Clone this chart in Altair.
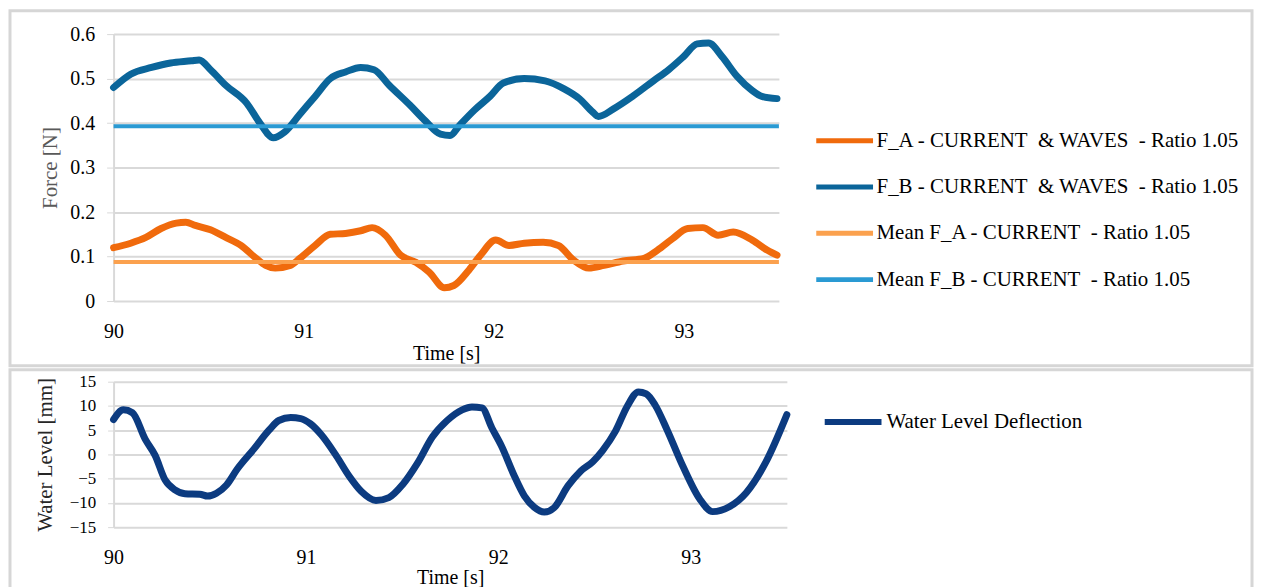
import altair as alt
import pandas as pd

# ---------------- data ----------------
fb_t = [90.00, 90.09, 90.20, 90.30, 90.41, 90.45, 90.51, 90.59, 90.70, 90.77, 90.84, 90.90, 90.98,
        91.06, 91.14, 91.22, 91.30, 91.37, 91.45, 91.56, 91.64, 91.72, 91.77, 91.82, 91.90, 91.98,
        92.05, 92.16, 92.27, 92.37, 92.45, 92.52, 92.55, 92.63, 92.73, 92.84, 92.92, 93.00, 93.07,
        93.13, 93.20, 93.28, 93.36, 93.41, 93.49]
fb_v = [0.480, 0.510, 0.525, 0.535, 0.540, 0.542, 0.520, 0.485, 0.445, 0.400, 0.367, 0.380, 0.420,
        0.460, 0.500, 0.515, 0.525, 0.520, 0.485, 0.440, 0.405, 0.375, 0.372, 0.395, 0.430, 0.460,
        0.490, 0.500, 0.495, 0.477, 0.455, 0.425, 0.415, 0.432, 0.460, 0.495, 0.520, 0.550, 0.578,
        0.580, 0.550, 0.505, 0.473, 0.460, 0.455]

fa_t = [90.00, 90.09, 90.17, 90.25, 90.33, 90.38, 90.43, 90.51, 90.59, 90.67, 90.75, 90.80, 90.85,
        90.93, 90.98, 91.06, 91.14, 91.22, 91.30, 91.36, 91.43, 91.51, 91.59, 91.66, 91.74, 91.79,
        91.87, 91.93, 92.01, 92.08, 92.16, 92.26, 92.34, 92.42, 92.50, 92.58, 92.68, 92.79, 92.86,
        92.94, 93.02, 93.10, 93.18, 93.26, 93.36, 93.44, 93.49]
fa_v = [0.120, 0.130, 0.143, 0.163, 0.175, 0.177, 0.170, 0.160, 0.143, 0.125, 0.096, 0.080, 0.074,
        0.080, 0.096, 0.125, 0.150, 0.152, 0.158, 0.165, 0.148, 0.103, 0.087, 0.065, 0.030, 0.035,
        0.070, 0.103, 0.137, 0.125, 0.130, 0.132, 0.125, 0.092, 0.074, 0.080, 0.090, 0.096, 0.114,
        0.140, 0.163, 0.165, 0.148, 0.155, 0.137, 0.114, 0.103]

mean_fa = 0.088
mean_fb = 0.393
t_range = [90.0, 93.5]

wl_t = [90.000, 90.051, 90.098, 90.165, 90.216, 90.268, 90.319, 90.371, 90.448, 90.489, 90.535,
        90.587, 90.643, 90.731, 90.808, 90.859, 90.921, 90.973, 91.024, 91.081, 91.158, 91.225,
        91.287, 91.364, 91.431, 91.503, 91.580, 91.657, 91.734, 91.812, 91.863, 91.915, 91.966,
        92.017, 92.084, 92.136, 92.187, 92.239, 92.290, 92.362, 92.429, 92.491, 92.542, 92.609,
        92.671, 92.728, 92.769, 92.815, 92.877, 92.959, 93.047, 93.114, 93.201, 93.289, 93.392,
        93.500]
wl_v = [7.2, 9.2, 8.6, 3.1, -0.2, -5.3, -7.3, -8.1, -8.2, -8.6, -8.0,
        -6.3, -3.0, 1.2, 5.0, 7.0, 7.6, 7.4, 6.3, 4.0, -0.3, -4.5,
        -7.6, -9.5, -8.9, -6.2, -1.8, 3.6, 7.0, 9.2, 9.8, 9.6, 5.5,
        1.7, -4.5, -8.6, -10.9, -11.9, -11.0, -6.5, -3.4, -1.5, 0.8, 4.8,
        10.0, 12.9, 12.5, 10.2, 5.1, -2.4, -9.2, -11.8, -10.8, -7.9, -1.5,
        8.2]

NB = "\u00a0"
force_names = ["F_A - CURRENT" + NB + " & WAVES" + NB + " - Ratio 1.05",
               "F_B - CURRENT" + NB + " & WAVES" + NB + " - Ratio 1.05",
               "Mean F_A - CURRENT" + NB + " - Ratio 1.05",
               "Mean F_B - CURRENT" + NB + " - Ratio 1.05"]
force_colors = ["#F06A0C", "#0B659A", "#FBA14E", "#2A9AD3"]
wl_name = "Water Level Deflection"
wl_color = "#0C3B80"

FONT = "Liberation Serif"
GRID = "#D9D9D9"
FRAME = "#D6D6D6"

# ---------------- tables ----------------
df_fa = pd.DataFrame({"t": fa_t, "v": fa_v, "series": force_names[0]})
df_fb = pd.DataFrame({"t": fb_t, "v": fb_v, "series": force_names[1]})
df_ma = pd.DataFrame({"t": t_range, "v": [mean_fa] * 2, "series": force_names[2]})
df_mb = pd.DataFrame({"t": t_range, "v": [mean_fb] * 2, "series": force_names[3]})
df_wl = pd.DataFrame({"t": wl_t, "v": wl_v, "series": wl_name})

W = 668
H1 = 268
H2 = 146

x_top = alt.X("t:Q", scale=alt.Scale(domain=t_range, nice=False, zero=False),
              axis=alt.Axis(title="Time [s]", values=[90, 91, 92, 93], grid=False, domain=False,
                            ticks=False, labelFlush=False, labelPadding=21, titlePadding=2,
                            labelFontSize=20, titleFontSize=20, titleFontWeight="normal",
                            titleColor="#000000", labelColor="#000000"))
y_top = alt.Y("v:Q", scale=alt.Scale(domain=[0, 0.6], nice=False),
              axis=alt.Axis(title="Force [N]", values=[0, 0.1, 0.2, 0.3, 0.4, 0.5, 0.6],
                            format="~g", labelFontSize=20, titleFontSize=21,
                            titleFontWeight="normal", titleColor="#595959", labelColor="#000000",
                            tickSize=7, tickColor=GRID, domainColor=GRID, domainWidth=2,
                            gridColor=GRID, gridWidth=2, labelPadding=12, titlePadding=9))
color_top = alt.Color("series:N",
                      scale=alt.Scale(domain=force_names, range=force_colors),
                      legend=alt.Legend(title=None, orient="none", legendX=703, legendY=76,
                                        symbolType="stroke", symbolSize=3249,
                                        symbolStrokeWidth=5, labelFontSize=21, labelFont=FONT,
                                        labelColor="#000000", labelOffset=1, rowPadding=5.5,
                                        labelLimit=0))

frame_df = pd.DataFrame({"k": [0]})

frame_top = alt.Chart(frame_df).mark_rect(fillOpacity=0, stroke=FRAME, strokeWidth=3).encode(
    x=alt.value(-104), x2=alt.value(1143), y=alt.value(-23.5), y2=alt.value(333))

meas = alt.Chart(pd.concat([df_fa, df_fb])).mark_line(
    strokeWidth=7, strokeCap="round", strokeJoin="round", interpolate="monotone").encode(
    x=x_top, y=y_top, color=color_top, detail="series:N")
means = alt.Chart(pd.concat([df_ma, df_mb])).mark_line(strokeWidth=4).encode(
    x=x_top, y=y_top, color=color_top, detail="series:N")

top = alt.layer(frame_top, meas, means).properties(width=W, height=H1)

x_bot = alt.X("t:Q", scale=alt.Scale(domain=t_range, nice=False, zero=False),
              axis=alt.Axis(title="Time [s]", values=[90, 91, 92, 93], grid=False, domain=False,
                            ticks=False, labelFlush=False, labelPadding=21, titlePadding=0,
                            labelFontSize=20, titleFontSize=20, titleFontWeight="normal",
                            titleColor="#000000", labelColor="#000000"))
y_bot = alt.Y("v:Q", scale=alt.Scale(domain=[-15, 15], nice=False),
              axis=alt.Axis(title="Water Level [mm]", values=[-15, -10, -5, 0, 5, 10, 15],
                            labelFontSize=17, titleFontSize=21, titleFontWeight="normal",
                            titleColor="#262626", labelColor="#000000", tickSize=6,
                            tickColor=GRID, domainColor=GRID, domainWidth=2, gridColor=GRID,
                            gridWidth=2, labelPadding=12, titlePadding=14))
color_bot = alt.Color("series:N", scale=alt.Scale(domain=[wl_name], range=[wl_color]),
                      legend=alt.Legend(title=None, orient="none", legendX=711, legendY=9,
                                        symbolType="stroke", symbolSize=3249,
                                        symbolStrokeWidth=6, labelFontSize=21, labelFont=FONT,
                                        labelColor="#000000", labelOffset=2, labelLimit=0))

frame_bot = alt.Chart(frame_df).mark_rect(fillOpacity=0, stroke=FRAME, strokeWidth=3).encode(
    x=alt.value(-104), x2=alt.value(1143), y=alt.value(-12), y2=alt.value(230))

wl = alt.Chart(df_wl).mark_line(strokeWidth=7, strokeCap="round", strokeJoin="round",
                                interpolate="monotone").encode(
    x=x_bot, y=y_bot, color=color_bot)

bottom = alt.layer(frame_bot, wl).properties(width=W + 8, height=H2)

chart = alt.vconcat(top, bottom, spacing=0).resolve_scale(
    color="independent", x="independent", y="independent").resolve_legend(
    color="independent").properties(
    padding={"left": 0, "top": 0, "right": 0, "bottom": 0}
).configure(font=FONT).configure_view(stroke=None).configure_axis(
    labelFont=FONT, titleFont=FONT)

chart.save("out.html", embed_options={"renderer": "svg", "actions": False})
